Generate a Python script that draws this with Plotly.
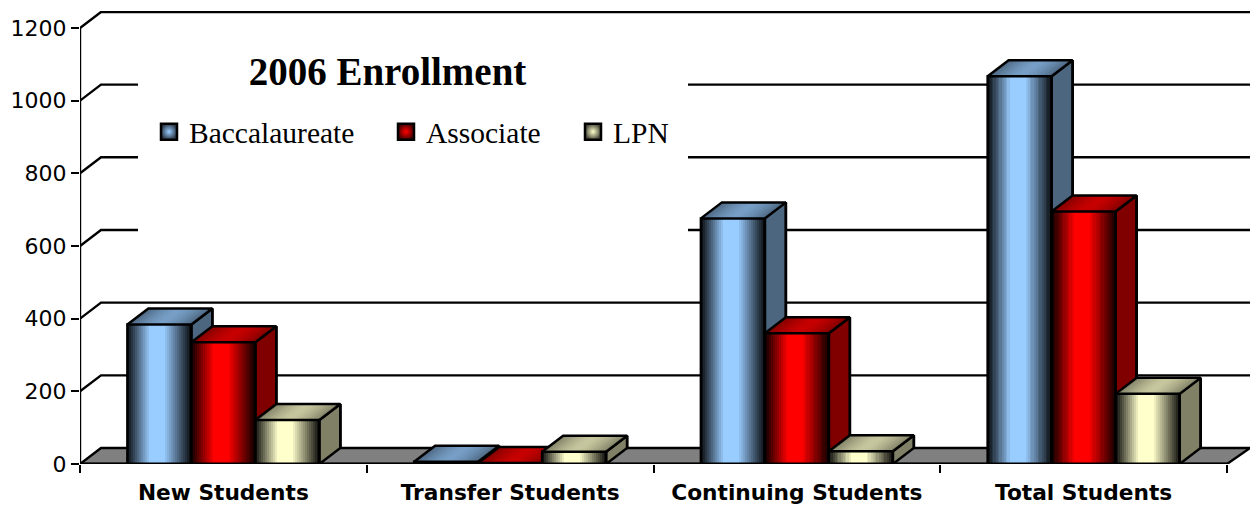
import plotly.graph_objects as go

categories = ["New Students", "Transfer Students", "Continuing Students", "Total Students"]
series_names = ["Baccalaureate", "Associate", "LPN"]
baccalaureate = [384, 6, 676, 1067]
associate = [335, 3, 360, 695]
lpn = [121, 34, 35, 193]
y_ticks = [0, 200, 400, 600, 800, 1000, 1200]
base_colors = [(0x99, 0xCC, 0xFF), (0xFF, 0x00, 0x00), (0xFF, 0xFF, 0xCC)]
series_values = [baccalaureate, associate, lpn]

# --- geometry in axis units ---
PX_PER_CAT = 286.75
PX_PER_UNIT = 72.67 / 200
X0 = -0.5
X_END = 3.5
DX = 21 / PX_PER_CAT
DY = 16 / PX_PER_UNIT
BAR_W = 64 / PX_PER_CAT
N_FRONT = 32
N_TOP = 16
L, R, T, B = 80, 4, 11, 42
W, H = 1254, 506
x_range = [X0, X0 + (W - L - R) / PX_PER_CAT]
y_range = [0, (H - T - B) / PX_PER_UNIT]


def rgb(c, f):
    return "rgb(%d,%d,%d)" % tuple(round(v * f) for v in c)


def shade(t):
    """t in 0..1 across a face -> brightness of the metallic sheen."""
    d = abs(t - 0.46) / 0.46 if t < 0.46 else abs(t - 0.46) / 0.54
    if d < 0.22:
        return 1.0
    return max(0.08, 1.0 - (d - 0.22) / 0.78 * 0.95)


def top_shade(t):
    d = abs(t - 0.5) / 0.5
    return 0.78 - 0.28 * d ** 1.5


traces = []
# back wall grid lines
gx, gy = [], []
for t in y_ticks[1:]:
    gx += [X0, X0 + DX, x_range[1], None]
    gy += [t, t + DY, t + DY, None]
traces.append(go.Scatter(x=gx, y=gy, mode="lines", line=dict(color="#000", width=2.4),
                         cliponaxis=False, showlegend=False, hoverinfo="skip"))
# floor
traces.append(go.Scatter(x=[X0, X0 + DX, X_END + DX * 1.1, X_END, X0], y=[0, DY, DY, 0, 0],
                         mode="lines", fill="toself", fillcolor="#808080",
                         line=dict(color="#000", width=2.4), cliponaxis=False,
                         showlegend=False, hoverinfo="skip"))
# y axis line
traces.append(go.Scatter(x=[X0, X0], y=[0, y_ticks[-1]], mode="lines", line=dict(color="#000", width=2.4),
                         cliponaxis=False, showlegend=False, hoverinfo="skip"))

for si, (name, vals, col) in enumerate(zip(series_names, series_values, base_colors)):
    xa = f"x{si + 2}"
    ya = f"y{si + 2}"
    lefts = [c - 1.5 * BAR_W + si * BAR_W for c in range(len(categories))]
    # gradient front faces: one bar trace, many narrow slices per value
    sx, sy, sc = [], [], []
    for left, v in zip(lefts, vals):
        for i in range(N_FRONT):
            t = (i + 0.5) / N_FRONT
            sx.append(left + t * BAR_W)
            sy.append(v)
            sc.append(rgb(col, shade(t)))
    traces.append(go.Bar(x=sx, y=sy, width=BAR_W / N_FRONT, marker=dict(color=sc, line=dict(width=0)),
                         xaxis=xa, yaxis=ya, showlegend=False, name=name, hoverinfo="y+name"))
    # side faces
    px, py = [], []
    for left, v in zip(lefts, vals):
        r = left + BAR_W
        px += [r, r + DX, r + DX, r, r, None]
        py += [0, DY, v + DY, v, 0, None]
    traces.append(go.Scatter(x=px, y=py, mode="lines", fill="toself", fillcolor=rgb(col, 0.5),
                             line=dict(color="#000", width=2.5), xaxis=xa, yaxis=ya,
                             showlegend=False, hoverinfo="skip"))
    # gradient top faces, painted left to right, each slice running on to the next
    for i in range(N_TOP):
        t0 = i / N_TOP
        t1 = min(1, (i + 1.6) / N_TOP)
        px, py = [], []
        for left, v in zip(lefts, vals):
            a, b = left + t0 * BAR_W, left + t1 * BAR_W
            px += [a, b, b + DX, a + DX, a, None]
            py += [v, v, v + DY, v + DY, v, None]
        traces.append(go.Scatter(x=px, y=py, mode="lines", fill="toself",
                                 fillcolor=rgb(col, top_shade((i + 0.5) / N_TOP)),
                                 line=dict(width=0), xaxis=xa, yaxis=ya,
                                 showlegend=False, hoverinfo="skip"))
    # outlines
    ox, oy = [], []
    for left, v in zip(lefts, vals):
        r = left + BAR_W
        ox += [left, left, r, r, None, left, left + DX, r + DX, r, None, r + DX, r + DX, None]
        oy += [0, v, v, 0, None, v, v + DY, v + DY, v, None, v + DY, DY, None]
    traces.append(go.Scatter(x=ox, y=oy, mode="lines", line=dict(color="#000", width=2.5),
                             xaxis=xa, yaxis=ya, showlegend=False, hoverinfo="skip"))

# front edge of the floor on top of the bars
traces.append(go.Scatter(x=[X0, X_END], y=[0, 0], mode="lines", line=dict(color="#000", width=3),
                         xaxis="x4", yaxis="y4", cliponaxis=False, showlegend=False, hoverinfo="skip"))

# legend entries, one legend per entry so each can sit where the reference has it
legend_keys = ["legend", "legend2", "legend3"]
legend_x = [149, 386, 573]
for name, col, key in zip(series_names, base_colors, legend_keys):
    traces.append(go.Scatter(x=[None], y=[None], mode="markers", name=name, legend=key,
                             marker=dict(symbol="square", size=16, color=rgb(col, 0.3),
                                         gradient=dict(type="radial", color=rgb(col, 1)),
                                         line=dict(color="#000", width=2.5))))

fig = go.Figure(traces)
axis_hidden = dict(visible=False, fixedrange=True)
legend_common = dict(y=1 - 106 / H, xref="container", yref="container", xanchor="left", yanchor="top",
                     bgcolor="rgba(255,255,255,0)", borderwidth=0,
                     font=dict(family="Liberation Serif", size=29.5, color="#000"))
layout_extra = {k: dict(x=x / W, **legend_common) for k, x in zip(legend_keys, legend_x)}
for n in (2, 3, 4):
    layout_extra[f"xaxis{n}"] = dict(overlaying="x", range=x_range, **axis_hidden)
    layout_extra[f"yaxis{n}"] = dict(overlaying="y", range=y_range, anchor=f"x{n}", **axis_hidden)

fig.update_layout(
    width=W, height=H,
    margin=dict(l=L, r=R, t=T, b=B, autoexpand=False),
    paper_bgcolor="#fff", plot_bgcolor="#fff",
    barmode="overlay", bargap=0,
    hovermode="closest",
    title=dict(text="<b>2006 Enrollment</b>", x=387.5 / W, xanchor="center", xref="container",
               y=1 - 71 / H, yanchor="middle", yref="container",
               font=dict(family="Liberation Serif", size=39, color="#000")),
    xaxis=dict(range=x_range, tickmode="array", tickvals=list(range(len(categories))), ticktext=categories,
               ticks="", showgrid=False, zeroline=False, showline=False, ticklabelstandoff=13,
               tickfont=dict(family="DejaVu Sans", size=21.7, weight="bold", color="#000"),
               minor=dict(ticks="outside", tickmode="array", tickvals=[X0 + i for i in range(5)],
                          ticklen=8, tickwidth=2, tickcolor="#000", showgrid=False)),
    yaxis=dict(range=y_range, tickmode="array", tickvals=y_ticks, ticks="outside", ticklen=8, tickwidth=2,
               tickcolor="#000", showgrid=False, zeroline=False, showline=False,
               tickfont=dict(family="DejaVu Sans", size=22, color="#000")),
    shapes=[dict(type="rect", xref="paper", yref="paper", x0=(138 - L) / (W - L - R), x1=(688 - L) / (W - L - R),
                 y0=(464 - 240) / (H - T - B), y1=(464 - 40) / (H - T - B),
                 fillcolor="#fff", line=dict(width=0), layer="above")],
    **layout_extra,
)

fig.write_html("out.html", config={"displayModeBar": False},
               post_script="document.body.style.margin='0';document.body.style.overflow='hidden';")
